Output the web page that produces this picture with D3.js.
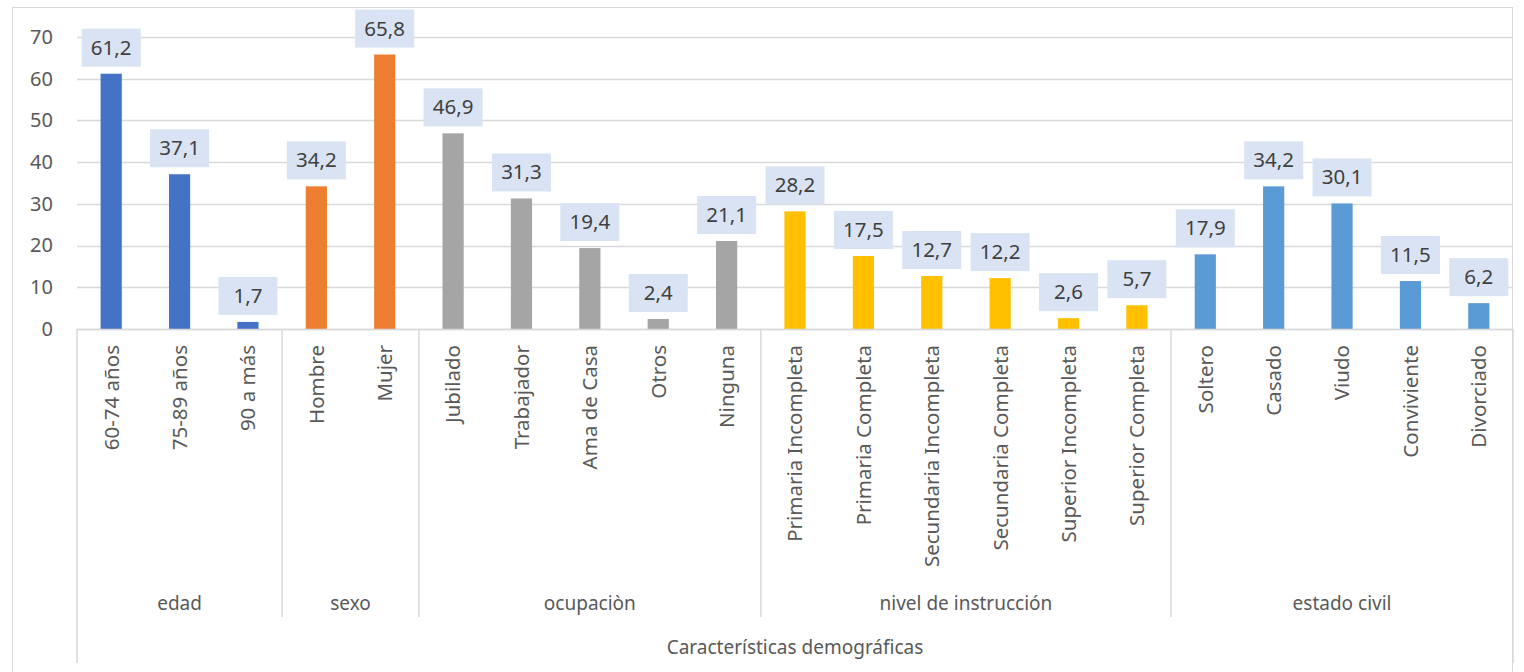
<!DOCTYPE html>
<html>
<head>
<meta charset="utf-8">
<script src="https://cdn.jsdelivr.net/npm/d3@7"></script>
<style>
  body { margin: 0; background: #fff; }
  svg { font-family: "Noto Sans", "Open Sans", sans-serif; }
</style>
</head>
<body>
<svg width="1524" height="672"></svg>
<script>
const groups = ['edad', 'sexo', 'ocupaciòn', 'nivel de instrucción', 'estado civil'];
const categories = [
  ['60-74 años', '75-89 años', '90 a más'],
  ['Hombre', 'Mujer'],
  ['Jubilado', 'Trabajador', 'Ama de Casa', 'Otros', 'Ninguna'],
  ['Primaria Incompleta', 'Primaria Completa', 'Secundaria Incompleta', 'Secundaria Completa', 'Superior Incompleta', 'Superior Completa'],
  ['Soltero', 'Casado', 'Viudo', 'Conviviente', 'Divorciado']
];
const values = [
  [61.2, 37.1, 1.7],
  [34.2, 65.8],
  [46.9, 31.3, 19.4, 2.4, 21.1],
  [28.2, 17.5, 12.7, 12.2, 2.6, 5.7],
  [17.9, 34.2, 30.1, 11.5, 6.2]
];
const colors = ['#4472C4', '#ED7D31', '#A5A5A5', '#FFC000', '#5B9BD5'];
const yTicks = [0, 10, 20, 30, 40, 50, 60, 70];
const axisTitle = 'Características demográficas';

// flatten into rows for drawing
const rows = [];
categories.forEach((cats, gi) => {
  cats.forEach((c, i) => rows.push({group: gi, cat: c, value: values[gi][i], key: gi + '|' + c}));
});

const svg = d3.select('svg');
const plot = {left: 77, right: 1513, top: 37, bottom: 329};

// chart border
svg.append('rect')
  .attr('x', 12.5).attr('y', 7.5)
  .attr('width', 1500).attr('height', 700)
  .attr('fill', 'none')
  .attr('stroke', '#D9D9D9');

const x = d3.scaleBand()
  .domain(rows.map(d => d.key))
  .range([plot.left, plot.right])
  .paddingInner(0.69)
  .paddingOuter(0.345);

const y = d3.scaleLinear()
  .domain([0, 70])
  .range([plot.bottom, plot.top]);

const g = svg.append('g');

// gridlines
g.append('g')
  .selectAll('line')
  .data(yTicks)
  .enter().append('line')
    .attr('x1', plot.left)
    .attr('x2', plot.right)
    .attr('y1', d => Math.round(y(d)) + 0.5)
    .attr('y2', d => Math.round(y(d)) + 0.5)
    .attr('stroke', '#D9D9D9')
    .attr('stroke-width', 1.5);

// y axis labels
const yAxis = g.append('g')
  .attr('transform', `translate(${plot.left - 14},0)`)
  .call(d3.axisLeft(y).tickValues(yTicks).tickSize(0).tickPadding(10));
yAxis.select('.domain').remove();
yAxis.selectAll('text')
  .attr('fill', '#595959')
  .style('font-size', '20px')
  .style('font-family', '"Noto Sans", sans-serif');

// bars
g.append('g')
  .selectAll('rect')
  .data(rows)
  .enter().append('rect')
    .attr('x', d => x(d.key))
    .attr('y', d => y(d.value))
    .attr('width', x.bandwidth())
    .attr('height', d => y(0) - y(d.value))
    .attr('fill', d => colors[d.group]);

// data labels
const labels = g.append('g')
  .selectAll('g')
  .data(rows)
  .enter().append('g')
    .attr('transform', d => `translate(${x(d.key) + x.bandwidth() / 2},${y(d.value) - 7})`);
labels.append('rect')
  .attr('x', -29.5)
  .attr('y', -38)
  .attr('width', 59)
  .attr('height', 38)
  .attr('fill', '#DAE3F3');
labels.append('text')
  .attr('y', -12)
  .attr('text-anchor', 'middle')
  .attr('fill', '#404040')
  .style('font-size', '20.5px')
  .text(d => d3.format('.1f')(d.value).replace('.', ','));

// category tick labels
g.append('g')
  .selectAll('text')
  .data(rows)
  .enter().append('text')
    .attr('transform', d => `translate(${x(d.key) + x.bandwidth() / 2},345) rotate(-90)`)
    .attr('dy', '0.36em')
    .attr('text-anchor', 'end')
    .attr('fill', '#595959')
    .style('font-size', '20.5px')
    .text(d => d.cat);

// group separators and labels
const step = x.step();
let start = 0;
const bounds = categories.map(cats => {
  const b = {from: start, to: start + cats.length};
  start += cats.length;
  return b;
});

// horizontal axis line
g.append('line')
  .attr('x1', plot.left).attr('x2', plot.right)
  .attr('y1', plot.bottom + 0.5).attr('y2', plot.bottom + 0.5)
  .attr('stroke', '#D9D9D9').attr('stroke-width', 1.5);

const sep = g.append('g').attr('stroke', '#D9D9D9').attr('stroke-width', 1.5);
sep.append('line')
  .attr('x1', plot.left).attr('x2', plot.left)
  .attr('y1', plot.bottom).attr('y2', 663);
sep.append('line')
  .attr('x1', plot.right).attr('x2', plot.right)
  .attr('y1', plot.bottom).attr('y2', 663);
sep.selectAll('.inner')
  .data(bounds.slice(1))
  .enter().append('line')
    .attr('class', 'inner')
    .attr('x1', d => plot.left + d.from * step)
    .attr('x2', d => plot.left + d.from * step)
    .attr('y1', plot.bottom)
    .attr('y2', 617);

g.append('g')
  .selectAll('text')
  .data(bounds)
  .enter().append('text')
    .attr('x', (d, i) => plot.left + (d.from + d.to) / 2 * step)
    .attr('y', 610)
    .attr('text-anchor', 'middle')
    .attr('fill', '#595959')
    .style('font-size', '19px')
    .text((d, i) => groups[i]);

g.append('text')
  .attr('x', (plot.left + plot.right) / 2)
  .attr('y', 654)
  .attr('text-anchor', 'middle')
  .attr('fill', '#595959')
  .style('font-size', '19px')
  .text(axisTitle);
</script>
</body>
</html>
